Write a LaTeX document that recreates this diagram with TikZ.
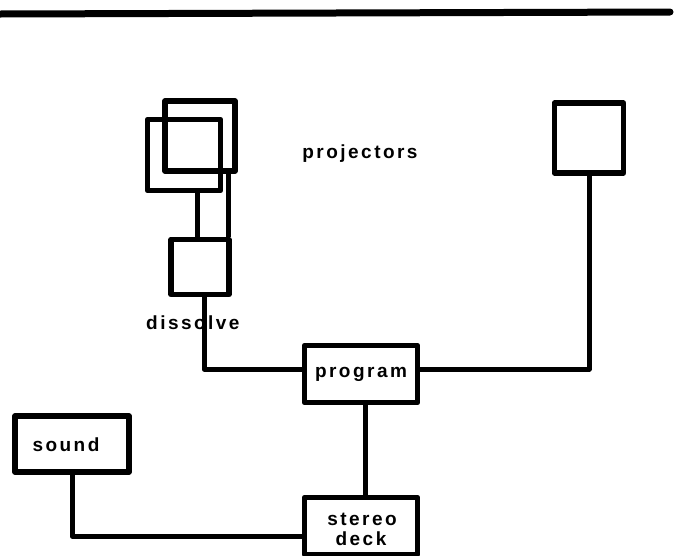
\documentclass[tikz,border=0pt]{standalone}
\usepackage{fontspec}
\setmainfont{Liberation Sans}[LetterSpace=13]
\begin{document}
\begin{tikzpicture}[x=1pt,y=-1pt,
  box/.style={draw,line width=5.5pt,rectangle,inner sep=0pt,line join=round},
  wire/.style={line width=5pt,line join=round},
  lbl/.style={font=\fontsize{19}{21}\selectfont\bfseries,inner sep=0pt}]
\useasboundingbox (0,0) rectangle (675,555);
% top rule
\coordinate (rl) at (0,14);
\coordinate (rr) at (670,12);
\draw[line width=7pt,line cap=round] (rl) -- (rr);
% projectors
\node[box,minimum width=70pt,minimum height=70pt] (back) at (200,136) {};
\node[box,minimum width=73pt,minimum height=71pt] (front) at (184,155) {};
\node[box,minimum width=58pt,minimum height=55pt] (dis) at (200,267) {};
\node[box,minimum width=69pt,minimum height=70pt] (right) at (589,138) {};
\node[box,minimum width=113pt,minimum height=57pt,lbl] (prog) at (361,374) {program};
\node[box,minimum width=113pt,minimum height=57pt] (stereo) at (361,526) {};
\node[box,minimum width=114pt,minimum height=56pt] (sound) at (72,444) {};
% labels
\node[lbl,anchor=base] (stlbl) at (362,525) {stereo};
\node[lbl,anchor=base] (dklbl) at (361,545) {deck};
\node[lbl,anchor=base] (sdlbl) at (66,451) {sound};
\node[lbl,anchor=base] (plbl) at (360,158) {projectors};
\node[lbl,anchor=base west] (dlbl) at (146,329) {dissolve};
% connectors
\draw[wire] ([xshift=13pt]front.south) -- ([xshift=13pt]front.south |- dis.north);
\draw[wire] ([xshift=28pt]back.south) -- ([xshift=28pt]back.south |- dis.north);
\draw[wire] ([xshift=4pt]dis.south) |- ([yshift=5pt]prog.west);
\draw[wire] ([yshift=5pt]prog.east) -| (right.south);
\draw[wire] ([xshift=4pt]prog.south) -- ([xshift=4pt]prog.south |- stereo.north);
\draw[wire] (sound.south) |- ([yshift=-10pt]stereo.west);
\end{tikzpicture}
\end{document}
